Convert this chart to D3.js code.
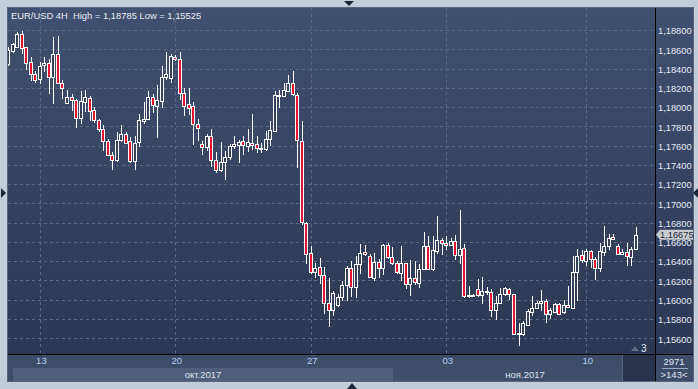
<!DOCTYPE html>
<html>
<head>
<meta charset="utf-8">
<script src="https://cdn.jsdelivr.net/npm/d3@7"></script>
<style>
  body { margin: 0; background: #c3cdd9; }
  svg { display: block; }
  text { font-family: "Liberation Sans", Arial, sans-serif; }
</style>
</head>
<body>
<div id="chart"></div>
<script>
// EUR/USD 4H candles
var candleOpen = [1.18446,1.18584,1.18626,1.18758,1.18620,1.18467,1.18342,1.18293,1.18432,1.18453,
  1.18307,1.18550,1.18255,1.18047,1.18109,1.18078,1.17891,1.18053,1.18099,1.17967,
  1.17863,1.17776,1.17644,1.17505,1.17446,1.17654,1.17724,1.17644,1.17438,1.17636,
  1.17852,1.17876,1.18105,1.18011,1.18064,1.18307,1.18297,1.18522,1.18495,1.18151,
  1.18029,1.18008,1.17828,1.17612,1.17584,1.17696,1.17453,1.17342,1.17435,1.17480,
  1.17599,1.17609,1.17644,1.17599,1.17630,1.17612,1.17572,1.17568,1.17672,1.17751,
  1.18116,1.18120,1.18168,1.18255,1.18130,1.17651,1.16797,1.16484,1.16293,1.16342,
  1.16258,1.15970,1.15891,1.15943,1.16032,1.16151,1.16334,1.16133,1.16370,1.16495,
  1.16450,1.16230,1.16397,1.16334,1.16568,1.16449,1.16386,1.16282,1.16380,1.16161,
  1.16230,1.16178,1.16318,1.16560,1.16318,1.16508,1.16620,1.16589,1.16568,1.16605,
  1.16464,1.16536,1.16040,1.16047,1.16116,1.16047,1.16085,1.16085,1.15891,1.15970,
  1.16064,1.16109,1.16057,1.15647,1.15647,1.15737,1.15876,1.15918,1.15970,1.15988,
  1.15849,1.15873,1.15959,1.15873,1.15943,1.15918,1.16293,1.16467,1.16404,1.16508,
  1.16422,1.16328,1.16491,1.16553,1.16654,1.16560,1.16480,1.16491,1.16449,1.16526];
var candleHigh = [1.18623,1.18668,1.18782,1.18785,1.18626,1.18516,1.18376,1.18470,1.18522,1.18495,
  1.18730,1.18738,1.18279,1.18182,1.18133,1.18089,1.18168,1.18182,1.18113,1.18001,
  1.17880,1.17810,1.17665,1.17532,1.17741,1.17810,1.17741,1.17689,1.17696,1.17932,
  1.18053,1.18168,1.18133,1.18227,1.18425,1.18574,1.18547,1.18540,1.18574,1.18193,
  1.18193,1.18053,1.17880,1.17644,1.17724,1.17769,1.17532,1.17636,1.17540,1.17620,
  1.17696,1.17661,1.17696,1.17769,1.17925,1.17696,1.17630,1.17748,1.17852,1.18165,
  1.18175,1.18245,1.18331,1.18373,1.18141,1.17852,1.16810,1.16560,1.16386,1.16432,
  1.16342,1.16224,1.16092,1.16057,1.16196,1.16352,1.16404,1.16456,1.16578,1.16568,
  1.16480,1.16484,1.16422,1.16578,1.16584,1.16550,1.16404,1.16560,1.16386,1.16411,
  1.16404,1.16370,1.16699,1.16665,1.16665,1.16873,1.16641,1.16657,1.16641,1.16672,
  1.16932,1.16578,1.16144,1.16055,1.16214,1.16238,1.16133,1.16109,1.16040,1.16120,
  1.16133,1.16120,1.16060,1.15761,1.15779,1.15901,1.16040,1.15988,1.16099,1.16005,
  1.15911,1.15970,1.15970,1.15995,1.16144,1.16456,1.16526,1.16516,1.16526,1.16516,
  1.16439,1.16584,1.16769,1.16682,1.16682,1.16578,1.16526,1.16584,1.16543,1.16751];
var candleLow = [1.18425,1.18560,1.18616,1.18547,1.18383,1.18272,1.18251,1.18238,1.18366,1.18133,
  1.18036,1.18245,1.18081,1.18029,1.17959,1.17786,1.17828,1.17949,1.17855,1.17834,
  1.17741,1.17543,1.17498,1.17342,1.17428,1.17636,1.17612,1.17418,1.17342,1.17584,
  1.17821,1.17870,1.17939,1.17682,1.17995,1.18279,1.18245,1.18480,1.18071,1.17907,
  1.17915,1.17602,1.17647,1.17498,1.17543,1.17383,1.17314,1.17324,1.17245,1.17446,
  1.17568,1.17418,1.17498,1.17532,1.17550,1.17522,1.17522,1.17543,1.17592,1.17751,
  1.17991,1.18105,1.18154,1.18116,1.17366,1.16776,1.16376,1.16266,1.16230,1.16161,
  1.15855,1.15717,1.15831,1.15925,1.15988,1.15988,1.16029,1.16016,1.16272,1.16456,
  1.16230,1.16196,1.16230,1.16258,1.16422,1.16363,1.16266,1.16196,1.16109,1.16040,
  1.16154,1.16120,1.16310,1.16307,1.16300,1.16480,1.16467,1.16516,1.16560,1.16411,
  1.16370,1.16016,1.16022,1.16040,1.16029,1.15953,1.16050,1.15821,1.15786,1.15953,
  1.16040,1.15998,1.15640,1.15525,1.15622,1.15727,1.15831,1.15911,1.15883,1.15761,
  1.15797,1.15866,1.15850,1.15849,1.15920,1.15911,1.15988,1.16386,1.16352,1.16334,
  1.16206,1.16293,1.16456,1.16516,1.16620,1.16467,1.16474,1.16352,1.16352,1.16516];
var candleClose = [1.18592,1.18654,1.18758,1.18609,1.18459,1.18339,1.18286,1.18428,1.18453,1.18307,
  1.18550,1.18255,1.18203,1.18109,1.18078,1.17891,1.18060,1.18105,1.17956,1.17863,
  1.17776,1.17644,1.17505,1.17453,1.17654,1.17724,1.17630,1.17438,1.17630,1.17863,
  1.17880,1.18105,1.18019,1.18071,1.18307,1.18339,1.18529,1.18495,1.18151,1.18011,
  1.17995,1.17828,1.17786,1.17584,1.17696,1.17453,1.17349,1.17435,1.17480,1.17599,
  1.17620,1.17633,1.17609,1.17633,1.17605,1.17578,1.17578,1.17672,1.17758,1.18123,
  1.18123,1.18175,1.18255,1.18133,1.17661,1.16803,1.16480,1.16293,1.16334,1.16258,
  1.15970,1.15891,1.16068,1.16032,1.16151,1.16334,1.16133,1.16370,1.16484,1.16474,
  1.16241,1.16397,1.16334,1.16568,1.16439,1.16380,1.16293,1.16380,1.16161,1.16230,
  1.16185,1.16324,1.16560,1.16318,1.16516,1.16620,1.16584,1.16568,1.16605,1.16464,
  1.16526,1.16040,1.16045,1.16047,1.16047,1.16092,1.16088,1.15891,1.15970,1.16064,
  1.16120,1.16057,1.15647,1.15650,1.15761,1.15883,1.15918,1.15964,1.15988,1.15849,
  1.15891,1.15959,1.15855,1.15946,1.15925,1.16293,1.16456,1.16411,1.16508,1.16422,
  1.16328,1.16501,1.16560,1.16636,1.16632,1.16480,1.16491,1.16456,1.16526,1.16675];

var priceTicks = [1.188,1.186,1.184,1.182,1.180,1.178,1.176,1.174,1.172,1.170,
  1.168,1.166,1.164,1.162,1.160,1.158,1.156];
var dateTickIdx = [7, 37, 67, 97, 128];
var dateLabels = ["13", "20", "27", "03", "10"];
var monthLabels = ["окт.2017", "ноя.2017"];
var monthStartIdx = [-1, 85];   // first candle of each month in view
var titleText = "EUR/USD 4H  High = 1,18785 Low = 1,15525";
var lastPrice = 1.16675;
var barsTotal = "2971";
var barsVisible = ">143<";

var W = 698, H = 389;
var plotL = 8, plotR = 655, plotT = 8, plotB = 354, axisR = 693, bottomB = 381;

var svg = d3.select("#chart").append("svg")
  .attr("width", W)
  .attr("height", H);

var defs = svg.append("defs");
var grad = defs.append("linearGradient")
  .attr("id", "bg").attr("x1", 0).attr("y1", 0).attr("x2", 0).attr("y2", 1);
grad.append("stop").attr("offset", "0%").attr("stop-color", "#405070");
grad.append("stop").attr("offset", "100%").attr("stop-color", "#2b3853");
defs.append("clipPath").attr("id", "plotclip")
  .append("rect").attr("x", plotL).attr("y", plotT).attr("width", plotR - plotL).attr("height", plotB - plotT);

// scales
var x = d3.scaleLinear().domain([0, candleOpen.length - 1]).range([9.3, 636.9]);
var y = d3.scaleLinear().domain([1.156, 1.188]).range([338.3, 30]);
var fmt = function(v) { return d3.format(".5f")(v).replace(".", ","); };

// panels
svg.append("rect").attr("x", plotL - 1).attr("y", plotT - 1)
  .attr("width", axisR - plotL + 2).attr("height", bottomB - plotT + 2)
  .style("fill", "#56667f");
svg.append("rect").attr("x", plotL).attr("y", plotT)
  .attr("width", axisR - plotL).attr("height", plotB - plotT)
  .style("fill", "url(#bg)");

// bottom strip
svg.append("rect").attr("x", plotL).attr("y", plotB)
  .attr("width", axisR - plotL).attr("height", bottomB - plotB)
  .style("fill", "#3d4c67");
// month bands
var monthEnd = [monthStartIdx[1], candleOpen.length + 5];
svg.selectAll(".mband").data(monthLabels).enter().append("rect")
  .attr("class", "mband")
  .attr("x", function(d, i) { return i == 0 ? 13 : x(monthStartIdx[i]); })
  .attr("y", 368)
  .attr("width", function(d, i) { var a = i == 0 ? 13 : x(monthStartIdx[i]); return Math.min(x(monthEnd[i]), 623) - a; })
  .attr("height", bottomB - 368)
  .style("fill", function(d, i) { return i == 0 ? "#4f5f7a" : "#3f4e69"; });
svg.selectAll(".mlabel").data(monthLabels).enter().append("text")
  .attr("class", "mlabel")
  .attr("x", function(d, i) { var a = i == 0 ? 13 : x(monthStartIdx[i]); var b = i == 0 ? x(monthEnd[i]) : 657; return (a + b) / 2; })
  .attr("y", 378)
  .attr("text-anchor", "middle")
  .style("font-size", "9.5px")
  .style("fill", "#dde3ec")
  .text(function(d) { return d; });

svg.append("rect").attr("x", 623).attr("y", plotB).attr("width", plotR - 623).attr("height", bottomB - plotB)
  .style("fill", "#27344b");
svg.append("line").attr("x1", 622.5).attr("x2", 622.5).attr("y1", plotB).attr("y2", bottomB)
  .style("stroke", "#56667f");

// grid
svg.append("g").selectAll("line").data(priceTicks).enter().append("line")
  .attr("x1", plotL).attr("x2", plotR)
  .attr("y1", function(d) { return Math.round(y(d)) + 0.5; })
  .attr("y2", function(d) { return Math.round(y(d)) + 0.5; })
  .style("stroke", "#5a6a86").style("stroke-dasharray", "3,3");
svg.append("g").selectAll("line").data(dateTickIdx).enter().append("line")
  .attr("x1", function(d) { return Math.round(x(d)) - 0.5; })
  .attr("x2", function(d) { return Math.round(x(d)) - 0.5; })
  .attr("y1", plotT).attr("y2", plotB)
  .style("stroke", "#5a6a86").style("stroke-dasharray", "3,3");

// candles
var candles = candleOpen.map(function(o, i) {
  return { i: i, o: o, h: candleHigh[i], l: candleLow[i], c: candleClose[i] };
});
var cg = svg.append("g").attr("clip-path", "url(#plotclip)");
var cand = cg.selectAll(".candle").data(candles).enter().append("g").attr("class", "candle");
cand.append("line")
  .attr("x1", function(d) { return Math.round(x(d.i)) - 0.5; })
  .attr("x2", function(d) { return Math.round(x(d.i)) - 0.5; })
  .attr("y1", function(d) { return Math.round(y(d.h)); })
  .attr("y2", function(d) { return Math.round(y(d.l)); })
  .style("stroke", "#ffffff");
cand.append("rect")
  .attr("x", function(d) { return Math.round(x(d.i)) - 2.5; })
  .attr("y", function(d) { return Math.round(y(Math.max(d.o, d.c))) + 0.5; })
  .attr("width", 3)
  .attr("height", function(d) {
    var t = Math.round(y(Math.max(d.o, d.c))), b = Math.round(y(Math.min(d.o, d.c)));
    return Math.max(b - t, 1);
  })
  .style("fill", function(d) { return d.c >= d.o ? "#33415d" : "#e3142f"; })
  .style("stroke", "#ffffff");

// axis border lines
svg.append("line").attr("x1", plotR + 0.5).attr("x2", plotR + 0.5).attr("y1", plotT).attr("y2", bottomB)
  .style("stroke", "#000");
svg.append("line").attr("x1", plotL).attr("x2", axisR).attr("y1", plotB + 0.5).attr("y2", plotB + 0.5)
  .style("stroke", "#000");

// right price axis
var yAxis = svg.append("g").attr("transform", "translate(" + plotR + ",0)")
  .call(d3.axisRight(y).tickValues(priceTicks).tickFormat(fmt).tickSize(0).tickPadding(3));
yAxis.select(".domain").remove();
yAxis.selectAll("text")
  .attr("dy", "0.4em")
  .style("font-family", "'Liberation Sans', Arial, sans-serif")
  .style("font-size", "9.3px")
  .style("fill", "#e4ebf5");

// date axis
var xAxis = svg.append("g").attr("transform", "translate(0," + plotB + ")")
  .call(d3.axisBottom(x).tickValues(dateTickIdx).tickFormat(function(d, i) { return dateLabels[i]; }).tickSize(0).tickPadding(3));
xAxis.select(".domain").remove();
xAxis.selectAll("text")
  .style("font-family", "'Liberation Sans', Arial, sans-serif")
  .style("font-size", "9.5px")
  .style("fill", "#b3d0f5");

// last price marker
var ly = y(lastPrice);
svg.append("path")
  .attr("d", "M656," + ly + " L660," + (ly - 5) + " L693," + (ly - 5) + " L693," + (ly + 5) + " L660," + (ly + 5) + " Z")
  .style("fill", "#c9cdd3");
svg.append("text").attr("x", 660).attr("y", ly + 3.5)
  .style("font-size", "9.3px").style("fill", "#1d2433")
  .text(fmt(lastPrice));

// title
svg.append("text").attr("x", 11).attr("y", 19)
  .style("font-size", "9.4px").style("fill", "#e8edf4")
  .style("white-space", "pre")
  .text(titleText);

// scroll counter box
svg.append("text").attr("x", 674).attr("y", 365).attr("text-anchor", "middle")
  .style("font-size", "9.5px").style("fill", "#dfe6f0").text(barsTotal);
svg.append("line").attr("x1", 662).attr("x2", 688).attr("y1", 368.5).attr("y2", 368.5)
  .style("stroke", "#9aaac0");
svg.append("text").attr("x", 674).attr("y", 378).attr("text-anchor", "middle")
  .style("font-size", "9.5px").style("fill", "#dfe6f0").text(barsVisible);

// small "3" marker
svg.append("path").attr("d", "M631,351 L635,346 L639,351 Z").style("fill", "#5d6b84");
svg.append("text").attr("x", 641).attr("y", 352)
  .style("font-size", "10px").style("fill", "#dfe6f0").text("3");

// frame arrows
var arrows = [
  "M344,1 L354,1 L349,6 Z",
  "M347,389 L357,389 L352,383 Z",
  "M1,188 L6,193 L1,198 Z",
  "M698,188 L693,193 L698,198 Z"
];
svg.selectAll(".arrow").data(arrows).enter().append("path")
  .attr("d", function(d) { return d; })
  .style("fill", "#1b2538");
</script>
</body>
</html>
